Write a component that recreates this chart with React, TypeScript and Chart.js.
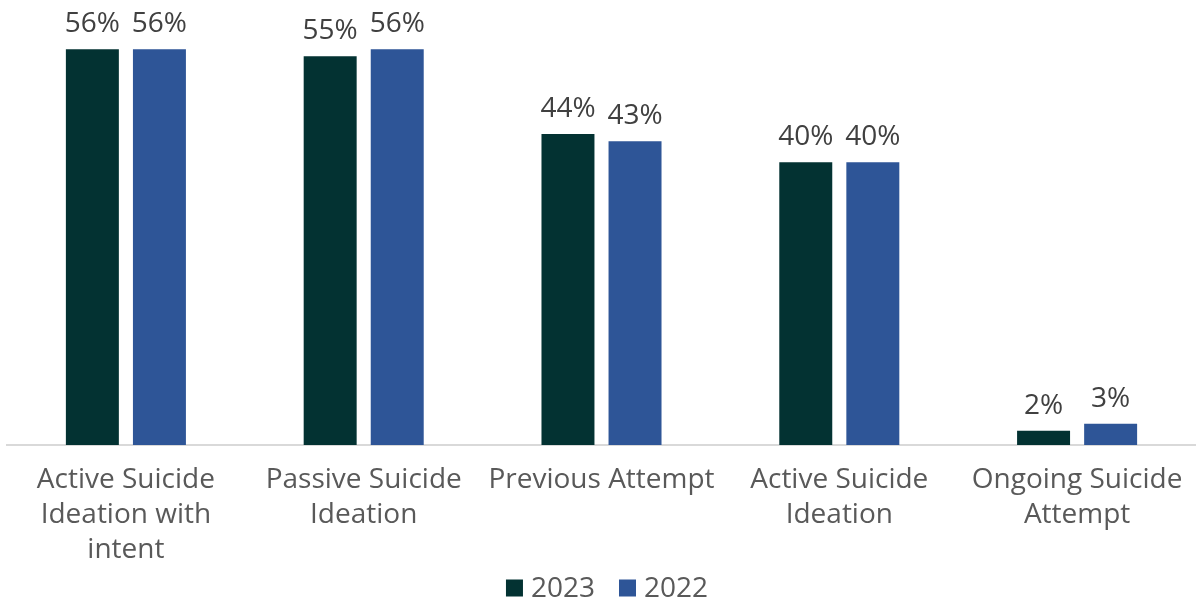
import React, { useEffect, useRef } from "react";
import { Chart, registerables } from "chart.js";

Chart.register(...registerables);

const categories: (string | string[])[] = [
  ["Active Suicide", "Ideation with", "intent"],
  ["Passive Suicide", "Ideation"],
  "Previous Attempt",
  ["Active Suicide", "Ideation"],
  ["Ongoing Suicide", "Attempt"],
];
const values2023 = [56, 55, 44, 40, 2];
const values2022 = [56, 56, 43, 40, 3];
const seriesNames = ["2023", "2022"];
const colors = ["#033232", "#2E5597"];

const FONT = "'Open Sans', 'Noto Sans', sans-serif";

const dataLabelPlugin = {
  id: "dataLabels",
  afterDatasetsDraw(chart: any) {
    const ctx = chart.ctx;
    ctx.save();
    ctx.font = `28px ${FONT}`;
    ctx.fillStyle = "#404040";
    ctx.textAlign = "center";
    ctx.textBaseline = "bottom";
    chart.data.datasets.forEach((ds: any, i: number) => {
      const meta = chart.getDatasetMeta(i);
      meta.data.forEach((bar: any, j: number) => {
        ctx.fillText(`${ds.data[j]}%`, bar.x, bar.y - 11);
      });
    });
    ctx.restore();
  },
};

const legendPlugin = {
  id: "bottomLegend",
  afterDraw(chart: any) {
    const ctx = chart.ctx;
    ctx.save();
    ctx.font = `28px ${FONT}`;
    const box = 17;
    const gap = 8;
    const itemGap = 24;
    const items = chart.data.datasets.map((ds: any) => ({
      text: ds.label,
      color: ds.backgroundColor,
      w: ctx.measureText(ds.label).width,
    }));
    const total =
      items.reduce((s: number, it: any) => s + box + gap + it.w, 0) + itemGap * (items.length - 1);
    let x = chart.width / 2 + 9 - total / 2;
    const cy = chart.height - 16;
    ctx.textBaseline = "middle";
    ctx.textAlign = "left";
    items.forEach((it: any) => {
      ctx.fillStyle = it.color;
      ctx.fillRect(x, cy - box / 2, box, box);
      x += box + gap;
      ctx.fillStyle = "#595959";
      ctx.fillText(it.text, x, cy + 1);
      x += it.w + itemGap;
    });
    ctx.restore();
  },
};

export default function App() {
  const ref = useRef<HTMLCanvasElement>(null);
  useEffect(() => {
    document.body.style.margin = "0";
    const chart = new Chart(ref.current!, {
      type: "bar",
      data: {
        labels: categories,
        datasets: [
          { label: seriesNames[0], data: values2023, backgroundColor: colors[0] },
          { label: seriesNames[1], data: values2022, backgroundColor: colors[1] },
        ],
      },
      options: {
        animation: false,
        responsive: false,
        maintainAspectRatio: false,
        layout: { padding: { left: 7, right: 0, top: 21, bottom: 24 } },
        datasets: {
          bar: { categoryPercentage: 0.564, barPercentage: 0.79 },
        },
        scales: {
          x: {
            grid: { display: false, drawTicks: true, tickLength: 6 },
            border: { display: true, color: "#d9d9d9", width: 2 },
            ticks: {
              color: "#595959",
              font: { family: FONT, size: 28, lineHeight: 1.25 },
              padding: 12,
              maxRotation: 0,
              autoSkip: false,
            },
          },
          y: {
            display: false,
            min: 0,
            max: 60,
          },
        },
        plugins: {
          legend: { display: false },
          tooltip: { enabled: false },
        },
      },
      plugins: [dataLabelPlugin, legendPlugin],
    });
    return () => chart.destroy();
  }, []);
  return (
    <div style={{ position: "absolute", left: 0, top: 0, width: 1196, height: 604 }}>
      <canvas ref={ref} width={1196} height={604} style={{ width: 1196, height: 604 }} />
    </div>
  );
}
